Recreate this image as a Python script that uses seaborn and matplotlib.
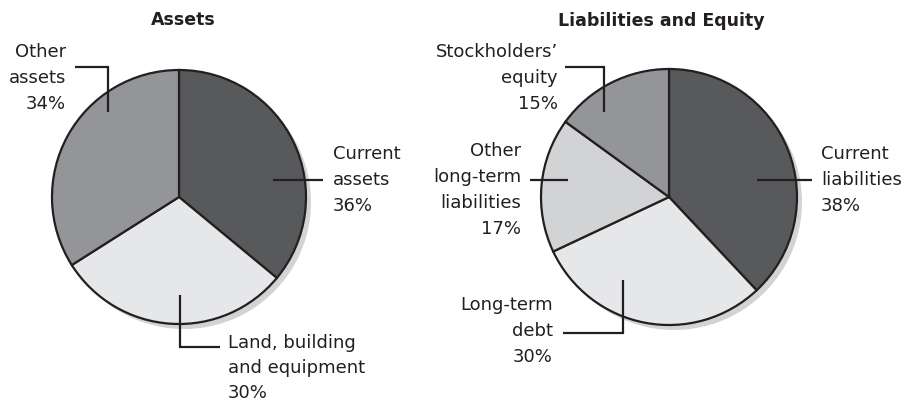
import matplotlib
matplotlib.use("Agg")
import matplotlib.pyplot as plt
import seaborn as sns

# Data
asset_labels = ["Current\nassets\n36%", "Land, building\nand equipment\n30%", "Other\nassets\n34%"]
asset_values = [36, 30, 34]
asset_colors = ["#58595b", "#e6e7e8", "#939598"]

liab_labels = ["Current\nliabilities\n38%", "Long-term\ndebt\n30%",
               "Other\nlong-term\nliabilities\n17%", "Stockholders\u2019\nequity\n15%"]
liab_values = [38, 30, 17, 15]
liab_colors = ["#58595b", "#e6e7e8", "#d1d3d4", "#939598"]

W, H = 907, 404
INK = "#231f20"
FONT = ["Liberation Sans Narrow", "DejaVu Sans"]


def Y(y):
    # pixel row (top-down) to axis coordinate (bottom-up)
    return H - y


def draw_pie(ax, values, colors, cx, cy, r):
    # soft shadow to the lower right
    ax.pie(values, colors=["#d1d3d4"] * len(values), startangle=90, counterclock=False,
           center=(cx + 5, Y(cy) - 5), radius=r, wedgeprops=dict(linewidth=0), frame=True)
    ax.pie(values, colors=colors, startangle=90, counterclock=False,
           center=(cx, Y(cy)), radius=r,
           wedgeprops=dict(linewidth=1.6, edgecolor=INK), frame=True)


def leader(ax, pts):
    xs = [p[0] for p in pts]
    ys = [Y(p[1]) for p in pts]
    ax.plot(xs, ys, color=INK, lw=1.6, solid_capstyle="butt", solid_joinstyle="miter", zorder=5)


def label(ax, x, y, text, ha, spacing=1.58):
    ax.text(x, Y(y), text, ha=ha, va="top", fontsize=13, color=INK,
            family=FONT, linespacing=spacing)


sns.set_theme(style="white")
plt.rcParams["font.family"] = FONT

fig = plt.figure(figsize=(W / 100, H / 100), dpi=100)
ax = fig.add_axes([0, 0, 1, 1])

draw_pie(ax, asset_values, asset_colors, 179, 197, 127)
draw_pie(ax, liab_values, liab_colors, 669, 197, 128)

ax.set_xlim(0, W)
ax.set_ylim(0, H)
ax.set_aspect("equal")
ax.axis("off")

# titles
ax.text(183, Y(20), "Assets", ha="center", va="center", fontsize=12.5, fontweight="bold",
        color=INK, family=FONT)
ax.text(661, Y(21), "Liabilities and Equity", ha="center", va="center", fontsize=12.5,
        fontweight="bold", color=INK, family=FONT)

# Assets labels
leader(ax, [(75, 67), (108, 67), (108, 112)])
label(ax, 66, 43, asset_labels[2], "right")
leader(ax, [(273, 180), (323, 180)])
label(ax, 333, 145, asset_labels[0], "left")
leader(ax, [(180, 295), (180, 347), (220, 347)])
label(ax, 228, 334, asset_labels[1], "left", spacing=1.5)

# Liabilities labels
leader(ax, [(565, 67), (604, 67), (604, 112)])
label(ax, 558, 43, liab_labels[3], "right")
leader(ax, [(530, 180), (568, 180)])
label(ax, 521, 142, liab_labels[2], "right")
leader(ax, [(757, 180), (812, 180)])
label(ax, 821, 145, liab_labels[0], "left")
leader(ax, [(623, 280), (623, 333), (563, 333)])
label(ax, 553, 296, liab_labels[1], "right")

fig.savefig("out.png", dpi=100, facecolor="white")
